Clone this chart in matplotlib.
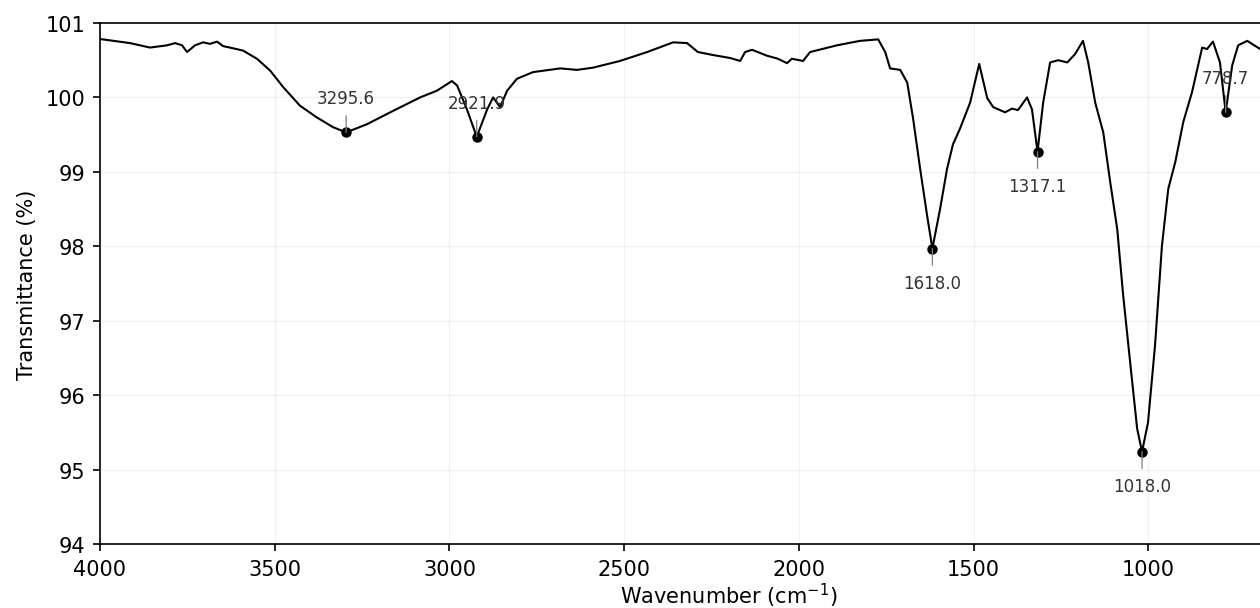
import matplotlib
matplotlib.use("Agg")
import matplotlib.pyplot as plt

# FTIR spectrum, values
wavenumber = [4000, 3914, 3857, 3808, 3785, 3765, 3751, 3728, 3705, 3685, 3665, 3648,
              3619, 3591, 3551, 3513, 3476, 3428, 3379, 3333, 3295.6, 3236, 3161, 3084,
              3036, 2993, 2978, 2950, 2921.9, 2892, 2875, 2855, 2835, 2807, 2761, 2683,
              2635, 2589, 2512, 2434, 2360, 2320, 2289, 2246, 2197, 2168, 2154, 2134,
              2091, 2060, 2034, 2020, 1988, 1968, 1891, 1825, 1773, 1753, 1739, 1710,
              1690, 1673, 1653, 1633, 1618.0, 1596, 1576, 1559, 1539, 1510, 1484, 1461,
              1444, 1410, 1390, 1373, 1347, 1333, 1317.1, 1301, 1281, 1258, 1232, 1210,
              1187, 1172, 1152, 1129, 1109, 1089, 1072, 1052, 1032, 1018.0, 1001, 981,
              961, 943, 923, 900, 875, 846, 832, 815, 795, 778.7, 760, 743, 717, 680, 650]
transmittance = [100.785, 100.73, 100.67, 100.70, 100.73, 100.70, 100.61, 100.70, 100.74,
                 100.72, 100.75, 100.69, 100.66, 100.63, 100.52, 100.36, 100.14, 99.89,
                 99.73, 99.60, 99.53, 99.64, 99.82, 100.0, 100.09, 100.22, 100.16, 99.84,
                 99.47, 99.84, 100.0, 99.87, 100.09, 100.25, 100.34, 100.39, 100.37,
                 100.40, 100.49, 100.61, 100.74, 100.73, 100.61, 100.57, 100.53, 100.49,
                 100.61, 100.64, 100.56, 100.52, 100.46, 100.52, 100.49, 100.61, 100.70,
                 100.76, 100.78, 100.61, 100.39, 100.37, 100.20, 99.71, 99.04, 98.41,
                 97.97, 98.50, 99.04, 99.37, 99.58, 99.93, 100.45, 99.99, 99.87, 99.80,
                 99.85, 99.83, 100.0, 99.84, 99.27, 99.93, 100.47, 100.50, 100.47, 100.58,
                 100.76, 100.47, 99.93, 99.53, 98.86, 98.23, 97.34, 96.44, 95.55, 95.24,
                 95.63, 96.66, 98.01, 98.77, 99.13, 99.67, 100.07, 100.67, 100.65, 100.75,
                 100.47, 99.80, 100.43, 100.70, 100.76, 100.65, 100.6]

# labelled peaks
peak_wn = [3295.6, 2921.9, 1618.0, 1317.1, 1018.0, 778.7]
peak_T = [99.53, 99.47, 97.97, 99.27, 95.24, 99.80]
peak_above = [True, True, False, False, False, True]

xtick_vals = [4000, 3500, 3000, 2500, 2000, 1500, 1000]
ytick_vals = [94, 95, 96, 97, 98, 99, 100, 101]

fig = plt.figure(figsize=(8.4, 4.06), dpi=150)
# axes runs past the right edge of the figure, like the reference
ax = fig.add_axes([100 / 1260, 64 / 609, 1258 / 1260, 521 / 609])

ax.plot(wavenumber, transmittance, color="black", lw=1.0)
ax.plot(peak_wn, peak_T, "o", color="black", ms=4)

for wn, t, above in zip(peak_wn, peak_T, peak_above):
    dy = 12 if above else -12
    ax.annotate(f"{wn:.1f}", xy=(wn, t), xytext=(0, dy), textcoords="offset points",
                ha="center", va="bottom" if above else "top", fontsize=8, color="#333333",
                arrowprops=dict(arrowstyle="-", color="gray", lw=0.6, shrinkA=2, shrinkB=0))

ax.set_xlim(4000, 400)
ax.set_ylim(94, 101)
ax.set_xticks(xtick_vals)
ax.set_yticks(ytick_vals)
ax.grid(True, color="#dddddd", alpha=0.4, lw=0.6)
ax.set_xlabel("Wavenumber (cm$^{-1}$)", labelpad=1)
ax.set_ylabel("Transmittance (%)")

fig.savefig("out.png", dpi=150)
